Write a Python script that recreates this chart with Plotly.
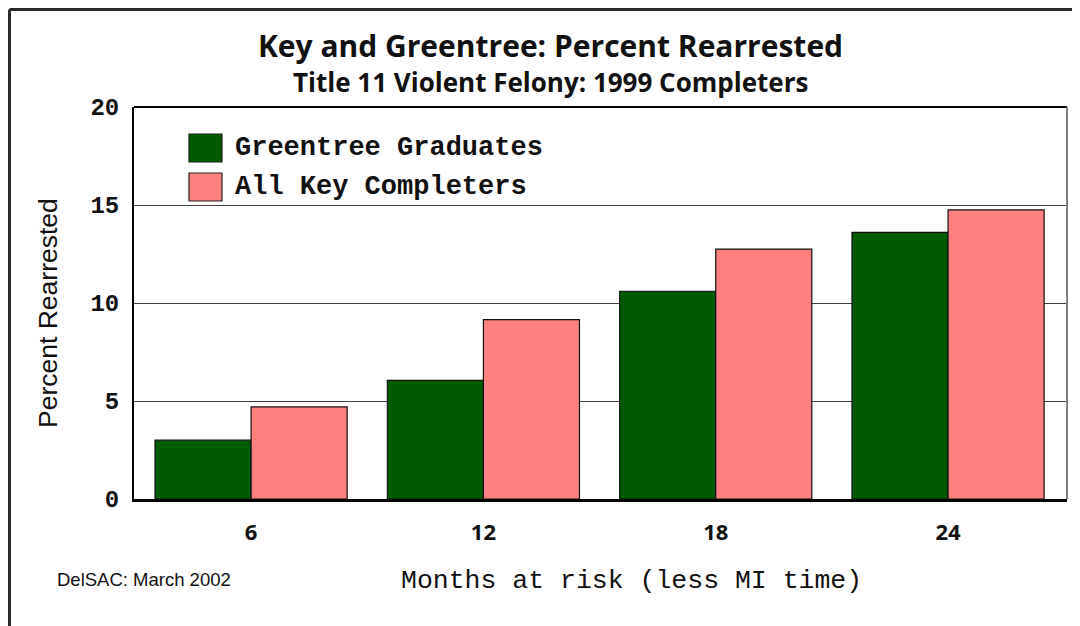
import plotly.graph_objects as go

months = ["6", "12", "18", "24"]
series_names = ["Greentree Graduates", "All Key Completers"]
greentree = [3.0, 6.05, 10.6, 13.6]
all_key = [4.7, 9.15, 12.75, 14.75]
colors = ["#005a00", "#ff8080"]
y_ticks = [0, 5, 10, 15, 20]

OFF = 8  # page body margin
W, H = 1080 - OFF, 626 - OFF
L, R, T, B = 126, 13, 99, 127
pw, ph = W - L - R, H - T - B


def px(x):
    return (x - OFF - L) / pw


def py(y):
    return (H - B - (y - OFF)) / ph


fig = go.Figure()
for name, vals, col in zip(series_names, [greentree, all_key], colors):
    fig.add_trace(go.Bar(
        x=months, y=vals, name=name,
        marker=dict(color=col, line=dict(color="#111111", width=1.2)),
        showlegend=False,
    ))

shapes = []
annotations = []

# custom legend (large squares like the original)
for i, (name, col) in enumerate(zip(series_names, colors)):
    top = 134 + i * 39
    shapes.append(dict(type="rect", xref="paper", yref="paper",
                       x0=px(189), x1=px(222), y0=py(top + 28), y1=py(top),
                       fillcolor=col, line=dict(color="#222222", width=1.2)))
    annotations.append(dict(text=name, xref="paper", yref="paper",
                            x=px(233), y=py(top + 14), xanchor="left", yanchor="middle",
                            showarrow=False,
                            font=dict(family="Liberation Mono", size=27, color="#111111",
                                      weight="bold")))

# outer frame (top and left)
shapes.append(dict(type="line", xref="paper", yref="paper",
                   x0=px(9.5), x1=px(1080), y0=py(9.5), y1=py(9.5),
                   line=dict(color="#2a2a2a", width=3)))
shapes.append(dict(type="line", xref="paper", yref="paper",
                   x0=px(9.5), x1=px(9.5), y0=py(9.5), y1=py(626),
                   line=dict(color="#2a2a2a", width=3)))
# plot frame: top black, right grey
shapes.append(dict(type="line", xref="paper", yref="paper", x0=0, x1=1, y0=1, y1=1,
                   line=dict(color="#000000", width=2)))
shapes.append(dict(type="line", xref="paper", yref="paper", x0=1, x1=1, y0=0, y1=1,
                   line=dict(color="#808080", width=2)))

annotations.append(dict(text="Title 11 Violent Felony: 1999 Completers",
                        xref="paper", yref="paper", x=px(550.5), y=py(82),
                        xanchor="center", yanchor="middle", showarrow=False,
                        font=dict(family="Open Sans", size=26, color="#111111", weight="bold")))
annotations.append(dict(text="Months at risk (less MI time)",
                        xref="paper", yref="paper", x=px(631), y=py(581),
                        xanchor="center", yanchor="middle", showarrow=False,
                        font=dict(family="Liberation Mono", size=26.5, color="#111111")))
annotations.append(dict(text="DelSAC: March 2002",
                        xref="paper", yref="paper", x=px(55), y=py(579),
                        xanchor="left", yanchor="middle", showarrow=False,
                        font=dict(family="Liberation Sans", size=18.5, color="#111111")))
annotations.append(dict(text="Percent Rearrested",
                        xref="paper", yref="paper", x=px(48), y=py(313),
                        xanchor="center", yanchor="middle", showarrow=False, textangle=-90,
                        font=dict(family="Liberation Sans", size=26.5, color="#111111")))

fig.update_layout(
    width=W, height=H,
    margin=dict(l=L, r=R, t=T, b=B),
    paper_bgcolor="white", plot_bgcolor="white",
    barmode="group", bargap=0.173, bargroupgap=0,
    title=dict(text="Key and Greentree: Percent Rearrested",
               x=(550.5 - OFF) / W, xanchor="center",
               y=1 - (46 - OFF) / H, yanchor="middle",
               font=dict(family="Open Sans", size=30, color="#111111", weight="bold")),
    shapes=shapes,
    annotations=annotations,
    xaxis=dict(type="category", range=[-0.504, 3.512],
               showgrid=False, showline=True, linecolor="#000000", linewidth=3,
               mirror=False, ticks="", ticklabelstandoff=12,
               tickfont=dict(family="Open Sans", size=22, color="#111111", weight="bold")),
    yaxis=dict(range=[0, 20], tickvals=y_ticks, showgrid=True, gridcolor="#404040",
               gridwidth=1, zeroline=False, showline=True, linecolor="#000000",
               linewidth=2, mirror=False, ticks="", ticklabelstandoff=8,
               tickfont=dict(family="Liberation Mono", size=24, color="#111111",
                             weight="bold")),
)

fig.write_html("out.html")
